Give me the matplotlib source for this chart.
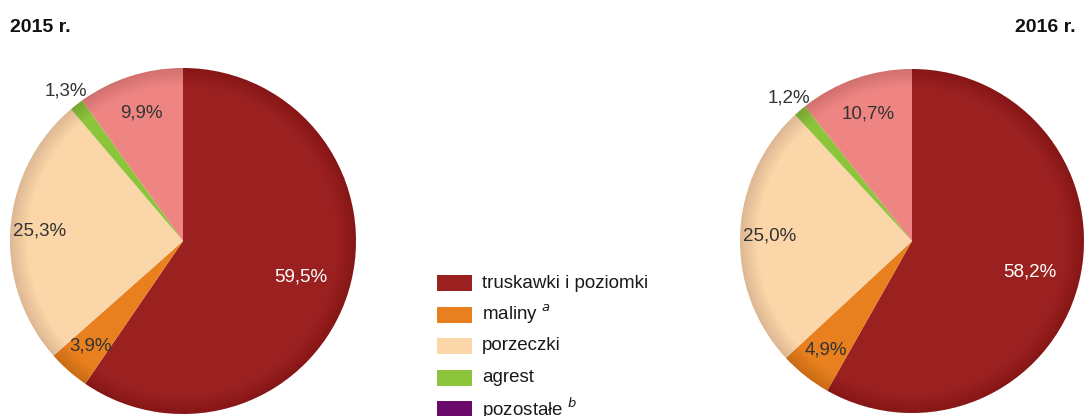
import numpy as np
import matplotlib.pyplot as plt
from matplotlib.patches import Rectangle, Wedge

plt.rcParams["font.family"] = ["Liberation Sans", "DejaVu Sans"]

W, H = 1084, 416

# slices, clockwise from 12 o'clock
slice_names = ["truskawki i poziomki", "maliny", "porzeczki", "agrest", "inne"]
slice_colors = ["#9b2020", "#e8801f", "#fbd6a8", "#8cc43c", "#ef8583"]
values_2015 = [59.5, 3.9, 25.3, 1.3, 9.9]
values_2016 = [58.2, 4.9, 25.0, 1.2, 10.7]
label_2015 = ["59,5%", "3,9%", "25,3%", "1,3%", "9,9%"]
label_2016 = ["58,2%", "4,9%", "25,0%", "1,2%", "10,7%"]
label_colors = ["white", "#333333", "#333333", "#333333", "#333333"]
label_frac = [0.71, 0.81, 0.83, 1.10, 0.78]

legend_names = ["truskawki i poziomki", "maliny", "porzeczki", "agrest", "pozostałe"]
legend_sup = ["", "a", "", "", "b"]
legend_colors = ["#9b2020", "#e8801f", "#fbd6a8", "#8cc43c", "#6b0a6b"]

fig = plt.figure(figsize=(W / 100, H / 100), dpi=100)
ax = fig.add_axes([0, 0, 1, 1])


def draw_pie(cx, cy, r, values, labels):
    wedges, _ = ax.pie(values, colors=slice_colors, startangle=90,
                       counterclock=False, center=(cx, cy), radius=r,
                       wedgeprops=dict(linewidth=0))
    # soft darker rim like the original's shading
    for k in range(10):
        r0 = r * (0.90 + 0.10 * k / 10)
        ax.add_patch(Wedge((cx, cy), r, 0, 360, width=r - r0,
                           facecolor="black", alpha=0.01, linewidth=0))
    for w, lab, col, f in zip(wedges, labels, label_colors, label_frac):
        th = np.deg2rad((w.theta1 + w.theta2) / 2)
        ax.text(cx + f * r * np.cos(th), cy + f * r * np.sin(th), lab,
                ha="center", va="center", fontsize=13.5, color=col)


draw_pie(183, 175, 173, values_2015, label_2015)
draw_pie(912, 175, 172, values_2016, label_2016)

ax.text(10, H - 28, "2015 r.", fontsize=14, fontweight="bold",
        ha="left", va="center", color="#111111")
ax.text(1076, H - 28, "2016 r.", fontsize=14, fontweight="bold",
        ha="right", va="center", color="#111111")

# legend, drawn by hand
for i, (name, sup, col) in enumerate(zip(legend_names, legend_sup, legend_colors)):
    y = H - (283 + 31.5 * i)
    ax.add_patch(Rectangle((437, y - 8), 35, 16, facecolor=col, linewidth=0))
    txt = name if not sup else name + r" $^{\it " + sup + "}$"
    ax.text(482, y, txt, fontsize=13.5, ha="left", va="center", color="#1a1a1a")

ax.set_xlim(0, W)
ax.set_ylim(0, H)
ax.set_aspect("equal")
ax.axis("off")

fig.savefig("out.png", dpi=100)
